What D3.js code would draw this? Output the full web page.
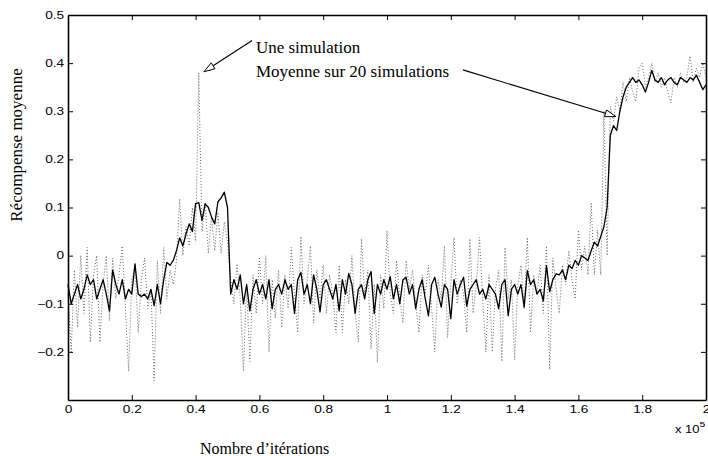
<!DOCTYPE html>
<html>
<head>
    <meta charset="utf-8">
    <title>Récompense moyenne</title>
    <script src="https://d3js.org/d3.v7.min.js"></script>
    <style>
        body {
            margin: 0;
            background: #fff;
        }

        .axis path,
        .axis line {
            stroke: #000;
        }

        .axis path {
            stroke-width: 1.6px;
        }

        .axis text {
            font-family: "Liberation Sans", Arial, sans-serif;
            font-size: 10.5px;
            fill: #000;
        }

        .label {
            font-family: "Liberation Serif", "Times New Roman", serif;
            fill: #000;
        }

        .moyenne {
            fill: none;
            stroke: #000;
            stroke-width: 1.3px;
            stroke-linejoin: round;
        }

        .simulation {
            fill: none;
            stroke: #666;
            stroke-width: 1px;
            stroke-dasharray: 1, 2;
        }
    </style>
</head>
<body>
    <svg id="chart" width="708" height="456"></svg>
    <script>
        // pas entre deux points (itérations)
        var step = 1000;

        var xTicks = [0, 20000, 40000, 60000, 80000, 100000, 120000, 140000, 160000, 180000, 200000];
        var yTicks = [-0.2, -0.1, 0, 0.1, 0.2, 0.3, 0.4, 0.5];

        // moyenne sur 20 simulations (trait plein)
        var moyenne = [
            -0.06, -0.10, -0.08, -0.06, -0.09, -0.07, -0.04, -0.06, -0.05, -0.09,
            -0.07, -0.05, -0.08, -0.115, -0.03, -0.06, -0.08, -0.05, -0.09, -0.07,
            -0.08, -0.017, -0.08, -0.085, -0.08, -0.09, -0.07, -0.104, -0.06, -0.10,
            -0.05, -0.014, -0.02, -0.01, 0.01, 0.037, 0.02, 0.045, 0.066, 0.05,
            0.108, 0.11, 0.073, 0.108, 0.10, 0.08, 0.066, 0.112, 0.12, 0.132,
            0.10, -0.08, -0.05, -0.07, -0.04, -0.10, -0.06, -0.115, -0.07, -0.05,
            -0.08, -0.06, -0.09, -0.05, -0.11, -0.07, -0.06, -0.08, -0.05, -0.07,
            -0.06, -0.12, -0.05, -0.035, -0.08, -0.06, -0.10, -0.04, -0.07, -0.117,
            -0.06, -0.05, -0.07, -0.09, -0.06, -0.115, -0.05, -0.08, -0.037, -0.06,
            -0.12, -0.07, -0.06, -0.09, -0.05, -0.033, -0.12, -0.06, -0.08, -0.05,
            -0.07, -0.043, -0.09, -0.06, -0.10, -0.05, -0.045, -0.08, -0.06, -0.11,
            -0.07, -0.05, -0.09, -0.125, -0.06, -0.045, -0.08, -0.107, -0.06, -0.07,
            -0.131, -0.05, -0.08, -0.06, -0.045, -0.105, -0.07, -0.06, -0.05, -0.08,
            -0.07, -0.09, -0.06, -0.07, -0.08, -0.11, -0.06, -0.05, -0.125, -0.07,
            -0.06, -0.08, -0.06, -0.107, -0.031, -0.06, -0.05, -0.08, -0.07, -0.094,
            -0.021, -0.075, -0.05, -0.038, -0.04, -0.03, -0.05, -0.02, -0.027, -0.01,
            -0.02, 0.0, -0.005, -0.01, 0.01, 0.028, 0.02, 0.04, 0.06, 0.10,
            0.25, 0.27, 0.26, 0.30, 0.33, 0.35, 0.36, 0.37, 0.36, 0.365,
            0.355, 0.34, 0.36, 0.385, 0.365, 0.36, 0.37, 0.355, 0.365, 0.37,
            0.36, 0.355, 0.37, 0.365, 0.36, 0.37, 0.365, 0.375, 0.36, 0.345,
            0.355
        ];

        // une seule simulation (pointillés)
        var simulation = [
            -0.08, -0.20, -0.03, -0.15, 0.00, -0.12, 0.017, -0.18, -0.04, 0.00,
            -0.18, -0.06, 0.00, -0.135, -0.005, -0.09, -0.04, 0.02, -0.11, -0.24,
            -0.05, -0.02, -0.16, -0.05, -0.005, -0.11, -0.07, -0.26, -0.01, -0.12,
            0.017, -0.09, -0.03, -0.06, -0.01, 0.118, 0.00, 0.06, 0.02, 0.10,
            0.03, 0.38, 0.05, 0.11, 0.005, 0.08, 0.01, 0.09, 0.005, 0.07,
            0.03, -0.05, -0.10, -0.017, -0.09, -0.24, -0.06, -0.22, -0.04, -0.12,
            -0.003, -0.10, 0.00, -0.20, -0.05, -0.13, -0.03, -0.15, -0.04, -0.11,
            0.017, -0.08, -0.16, 0.04, -0.10, -0.05, 0.02, -0.14, -0.03, -0.09,
            -0.02, -0.12, -0.04, -0.08, -0.16, -0.02, -0.16, -0.05, -0.10, 0.00,
            -0.12, -0.18, 0.035, -0.08, -0.03, -0.194, -0.06, -0.222, -0.04, -0.11,
            0.052, -0.08, -0.12, -0.01, -0.09, -0.14, -0.01, -0.07, -0.03, -0.10,
            -0.16, -0.04, -0.08, -0.02, -0.11, -0.20, -0.05, -0.09, 0.02, -0.17,
            -0.06, 0.038, -0.10, -0.05, -0.08, -0.16, 0.035, -0.12, -0.06, 0.038,
            -0.09, -0.20, -0.04, -0.20, -0.07, -0.03, -0.22, 0.017, -0.09, -0.05,
            -0.216, -0.06, -0.02, -0.11, 0.038, -0.16, -0.04, -0.08, -0.02, -0.12,
            0.02, -0.237, -0.005, -0.07, -0.12, -0.02, -0.06, 0.01, -0.05, -0.09,
            0.053, -0.03, 0.02, -0.04, 0.11, -0.04, 0.053, -0.04, 0.30, 0.00,
            0.31, 0.28, 0.33, 0.30, 0.36, 0.32, 0.37, 0.34, 0.32, 0.39,
            0.40, 0.35, 0.37, 0.40, 0.36, 0.38, 0.35, 0.37, 0.34, 0.318,
            0.37, 0.35, 0.38, 0.36, 0.37, 0.415, 0.36, 0.39, 0.37, 0.40,
            0.37
        ];

        // annotations, en coordonnées des données
        var notes = [
            { text: "Une simulation", x: 58900, y: 0.421 },
            { text: "Moyenne sur 20 simulations", x: 58900, y: 0.371 }
        ];
        var arrows = [
            { x0: 57700, y0: 0.447, x1: 42600, y1: 0.382 },
            { x0: 123800, y0: 0.386, x1: 171800, y1: 0.289 }
        ];

        var margin = { top: 15, right: 2, bottom: 56, left: 68 };
        var svg = d3.select("#chart");
        var width = +svg.attr("width") - margin.left - margin.right;
        var height = +svg.attr("height") - margin.top - margin.bottom;

        var x = d3.scaleLinear().domain([0, 200000]).range([margin.left, margin.left + width]);
        var y = d3.scaleLinear().domain([-0.3, 0.5]).range([margin.top + height, margin.top]);

        var fmt = d3.format("");
        var stretch = "scale(1.3,1)";

        // courbes
        var line = d3.line()
            .x(function (d, i) { return x(i * step); })
            .y(function (d) { return y(d); });

        svg.append("path").datum(simulation).attr("class", "simulation").attr("d", line);
        svg.append("path").datum(moyenne).attr("class", "moyenne").attr("d", line);

        // axes
        svg.append("g").attr("class", "axis")
            .attr("transform", "translate(0," + (margin.top + height) + ")")
            .call(d3.axisBottom(x).tickValues(xTicks).tickSizeInner(-5).tickSizeOuter(0).tickPadding(6)
                .tickFormat(function (d) { return fmt(d / 100000); }))
            .selectAll("text").attr("transform", stretch);

        svg.append("g").attr("class", "axis")
            .attr("transform", "translate(0," + margin.top + ")")
            .call(d3.axisTop(x).tickValues(xTicks).tickSizeInner(-5).tickSizeOuter(0).tickFormat(""));

        svg.append("g").attr("class", "axis")
            .attr("transform", "translate(" + margin.left + ",0)")
            .call(d3.axisLeft(y).tickValues(yTicks).tickSizeInner(-5).tickSizeOuter(0).tickPadding(3)
                .tickFormat(fmt))
            .selectAll("text").attr("transform", stretch);

        svg.append("g").attr("class", "axis")
            .attr("transform", "translate(" + (margin.left + width) + ",0)")
            .call(d3.axisRight(y).tickValues(yTicks).tickSizeInner(-5).tickSizeOuter(0).tickFormat(""));

        // facteur d'échelle de l'axe x
        var expo = svg.append("text")
            .attr("transform", "translate(" + (margin.left + width - 31) + "," + (margin.top + height + 33) + ") " + stretch)
            .style("font-family", "Liberation Sans, Arial, sans-serif")
            .style("font-size", "10px");
        expo.append("tspan").text("x 10");
        expo.append("tspan").attr("dy", -6).style("font-size", "8px").text("5");

        // titres des axes
        svg.append("text").attr("class", "label")
            .attr("x", 200)
            .attr("y", margin.top + height + 54)
            .style("font-size", "16px")
            .text("Nombre d’itérations");

        svg.append("text").attr("class", "label")
            .attr("transform", "translate(22," + (margin.top + 130) + ") rotate(-90)")
            .attr("text-anchor", "middle")
            .style("font-size", "17px")
            .text("Récompense moyenne");

        // annotations
        svg.selectAll(".note").data(notes).enter().append("text")
            .attr("class", "label note")
            .attr("x", function (d) { return x(d.x); })
            .attr("y", function (d) { return y(d.y); })
            .style("font-size", "17px")
            .text(function (d) { return d.text; });

        arrows.forEach(function (a) {
            var sx = x(a.x0), sy = y(a.y0), tx = x(a.x1), ty = y(a.y1);
            var dx = tx - sx, dy = ty - sy, len = Math.sqrt(dx * dx + dy * dy);
            var ux = dx / len, uy = dy / len;
            var bx = tx - 11 * ux, by = ty - 11 * uy;
            svg.append("line")
                .attr("x1", sx).attr("y1", sy).attr("x2", bx).attr("y2", by)
                .attr("stroke", "#000").attr("stroke-width", 1.1);
            svg.append("path")
                .attr("d", "M" + tx + "," + ty +
                    "L" + (bx - 3.5 * uy) + "," + (by + 3.5 * ux) +
                    "L" + (bx + 3.5 * uy) + "," + (by - 3.5 * ux) + "Z")
                .attr("fill", "#fff").attr("stroke", "#000").attr("stroke-width", 1);
        });
    </script>
</body>
</html>
